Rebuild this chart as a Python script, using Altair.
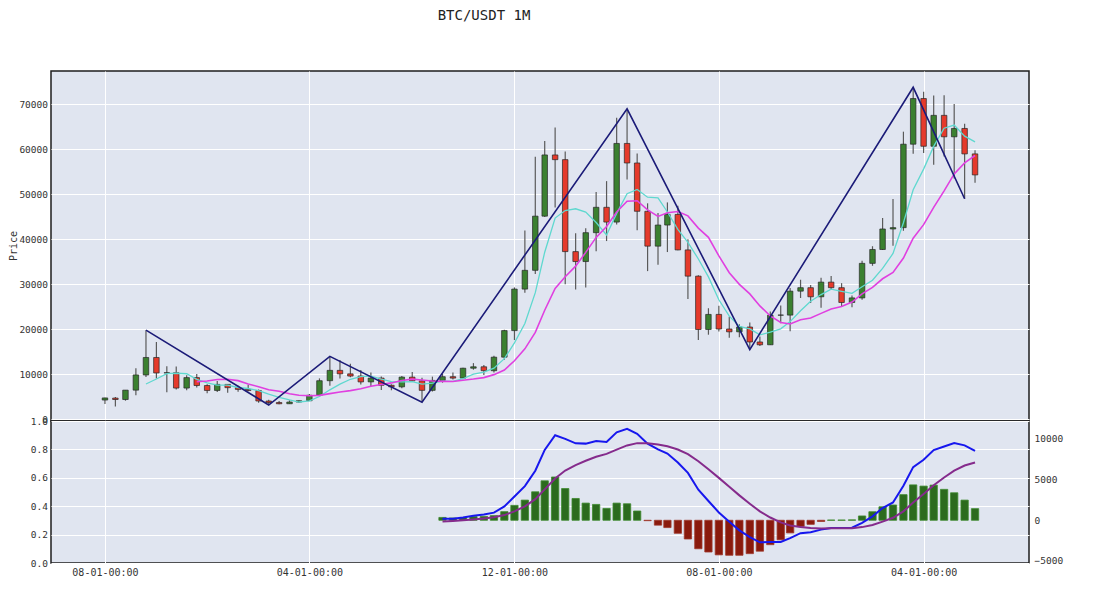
import altair as alt
import pandas as pd

TITLE = "BTC/USDT 1M"
Y_TITLE = "Price"

MONTHS = [
    "2017-08", "2017-09", "2017-10", "2017-11", "2017-12",
    "2018-01", "2018-02", "2018-03", "2018-04", "2018-05", "2018-06",
    "2018-07", "2018-08", "2018-09", "2018-10", "2018-11", "2018-12",
    "2019-01", "2019-02", "2019-03", "2019-04", "2019-05", "2019-06",
    "2019-07", "2019-08", "2019-09", "2019-10", "2019-11", "2019-12",
    "2020-01", "2020-02", "2020-03", "2020-04", "2020-05", "2020-06",
    "2020-07", "2020-08", "2020-09", "2020-10", "2020-11", "2020-12",
    "2021-01", "2021-02", "2021-03", "2021-04", "2021-05", "2021-06",
    "2021-07", "2021-08", "2021-09", "2021-10", "2021-11", "2021-12",
    "2022-01", "2022-02", "2022-03", "2022-04", "2022-05", "2022-06",
    "2022-07", "2022-08", "2022-09", "2022-10", "2022-11", "2022-12",
    "2023-01", "2023-02", "2023-03", "2023-04", "2023-05", "2023-06",
    "2023-07", "2023-08", "2023-09", "2023-10", "2023-11", "2023-12",
    "2024-01", "2024-02", "2024-03", "2024-04", "2024-05", "2024-06",
    "2024-07", "2024-08", "2024-09",
]

OPEN = [4261, 4690, 4378, 6463, 9837, 13716, 10285, 10326, 6922, 9246, 7485,
        6391, 7736, 7011, 6627, 6370, 4041, 3701, 3434, 3814, 4102, 5322,
        8555, 10854, 10081, 9589, 8290, 9141, 7541, 7195, 9352, 8530, 6412,
        8620, 9448, 9138, 11335, 11650, 10777, 13791, 19696, 28924, 33093,
        45134, 58739, 57697, 37254, 35045, 41462, 47101, 43820, 61300, 56951,
        46217, 38467, 43160, 45510, 37631, 31801, 19942, 23296, 20048, 19423,
        20491, 17166, 16542, 23125, 23142, 28465, 29233, 27210, 30472, 29232,
        25941, 26963, 34640, 37724, 42284, 42580, 61131, 71280, 60672, 67540,
        62772, 64628, 58974]
HIGH = [4745, 4939, 6470, 11300, 19798, 17176, 11786, 11710, 9760, 10020, 7787,
        8492, 7750, 7410, 7680, 6615, 4313, 4070, 4198, 4140, 5600, 9074,
        13970, 13147, 12325, 10940, 10370, 9514, 7750, 9578, 10500, 9188, 9460,
        10067, 10380, 11444, 12468, 12051, 14100, 19863, 29300, 41950, 58353,
        61844, 64854, 59500, 41330, 42448, 50500, 52920, 67000, 69000, 59054,
        47990, 45821, 48190, 47444, 40024, 31986, 24668, 25211, 22799, 21085,
        21481, 18388, 23961, 25250, 29185, 31000, 29820, 31432, 31804, 30244,
        27484, 35198, 38450, 44730, 48969, 63913, 73777, 72798, 71979, 71997,
        70080, 65660, 59810]
LOW = [3400, 2817, 4110, 5325, 9380, 9035, 6000, 6600, 6430, 7033, 5750,
       6070, 5880, 6111, 6205, 3653, 3156, 3350, 3373, 3671, 4067, 5316,
       7445, 9071, 9320, 7710, 7300, 6515, 6435, 6871, 8445, 3782, 6150,
       8117, 8833, 8893, 11000, 9825, 10374, 13195, 17572, 28130, 32296,
       44951, 47044, 30000, 28805, 29278, 37333, 39600, 43283, 53257, 42000,
       32917, 34322, 37155, 37578, 26700, 17622, 18781, 19520, 18126, 18190,
       15476, 16256, 16499, 21351, 19549, 26943, 25811, 24800, 28862, 25166,
       24901, 26539, 34097, 37616, 38555, 41884, 59005, 59192, 56553, 58402,
       53486, 49000, 52550]
CLOSE = [4725, 4379, 6463, 9839, 13716, 10285, 10327, 6924, 9246, 7485, 6390,
         7731, 7011, 6627, 6372, 4041, 3703, 3434, 3814, 4104, 5321, 8555,
         10854, 10081, 9589, 8289, 9141, 7542, 7195, 9353, 8530, 6410, 8620,
         9448, 9139, 11335, 11650, 10777, 13791, 19696, 28924, 33093, 45136,
         58741, 57694, 37254, 35045, 41462, 47101, 43824, 61300, 56951, 46217,
         38467, 43160, 45510, 37631, 31801, 19942, 23293, 20050, 19423, 20491,
         17164, 16542, 23125, 23142, 28465, 29233, 27210, 30472, 29232, 25941,
         26963, 34640, 37724, 42284, 42580, 61131, 71280, 60672, 67540, 62772,
         64628, 58974, 54300]

# MACD panel (starts 2020-05)
MACD_MONTHS = MONTHS[33:]
MACD = [200, 200, 330, 560, 710, 940, 1700, 2930, 4200, 6090, 8650, 10450,
        10010, 9460, 9420, 9750, 9620, 10800, 11230, 10620, 9420, 8720, 8200,
        7100, 5820, 3750, 2370, 960, -170, -1240, -2060, -2710, -2660, -2660,
        -2200, -1580, -1460, -1150, -960, -950, -920, -310, 480, 1500, 2190,
        4250, 6530, 7430, 8630, 9060, 9490, 9210, 8520]
SIGNAL = [-150, -80, 0, 110, 230, 370, 640, 1100, 1720, 2590, 3800, 5130,
          6110, 6780, 7310, 7800, 8160, 8690, 9200, 9480, 9470, 9320, 9100,
          8700, 8120, 7250, 6270, 5210, 4130, 3060, 2040, 1090, 340, -260,
          -650, -830, -960, -1000, -990, -980, -970, -840, -570, -160, 310,
          1100, 2180, 3230, 4310, 5260, 6110, 6730, 7090]
HIST = [350, 280, 330, 450, 480, 570, 1060, 1830, 2480, 3500, 4850, 5320,
        3900, 2680, 2110, 1950, 1460, 2110, 2030, 1140, -50, -600, -900,
        -1600, -2300, -3500, -3900, -4250, -4300, -4300, -4100, -3800, -3000,
        -2400, -1550, -750, -500, -150, 30, 30, 50, 530, 1050, 1660, 1880,
        3150, 4350, 4200, 4320, 3800, 3380, 2480, 1430]

ZZ_MONTHS = ["2017-12", "2018-12", "2019-06", "2020-03", "2021-11", "2022-11", "2024-03", "2024-08"]
ZZ_VALUES = [19798, 3156, 13970, 3782, 69000, 15476, 73777, 49000]

TICK_MONTHS = ["2017-08", "2019-04", "2020-12", "2022-08", "2024-04"]
PRICE_TICKS = [0, 10000, 20000, 30000, 40000, 50000, 60000, 70000]
LEFT_TICKS = [0.0, 0.2, 0.4, 0.6, 0.8, 1.0]
MACD_TICKS = [-5000, 0, 5000, 10000]

BG = "#e0e5f0"
UP = "#3b8030"
DN = "#e53a2b"
EDGE = "#262626"
WICK = "#5a5a5a"
MA5_C = "#5fd8cf"
MA10_C = "#e040e0"
ZZ_C = "#1b1b78"
MACD_C = "#1717ee"
SIG_C = "#852b8c"
HG = "#2c6b1e"
HG_E = "#3f8a2f"
HR = "#8a1a0d"
HR_E = "#a0392c"
FONT = "DejaVu Sans Mono"


def iso(m):
    return m + "-01T00:00:00"


def dt(m, day=1, hours=0):
    y, mo = m.split("-")
    return alt.DateTime(year=int(y), month=int(mo), date=day, hours=hours)


candles = pd.DataFrame({"date": [iso(m) for m in MONTHS], "open": OPEN,
                        "high": HIGH, "low": LOW, "close": CLOSE})
macd_df = pd.DataFrame({"date": [iso(m) for m in MACD_MONTHS], "macd": MACD,
                        "signal": SIGNAL, "hist": HIST})
zz_df = pd.DataFrame({"date": [iso(m) for m in ZZ_MONTHS], "price": ZZ_VALUES})

X_DOMAIN = [dt("2017-02", 21, 12), dt("2025-02", 8, 12)]
TICKS = [dt(m) for m in TICK_MONTHS]

x_top = alt.X("date:T", scale=alt.Scale(domain=X_DOMAIN, padding=0),
              axis=alt.Axis(values=TICKS, labels=False, ticks=False, domain=False,
                            title=None, grid=True))
x_bot = alt.X("date:T", scale=alt.Scale(domain=X_DOMAIN, padding=0),
              axis=alt.Axis(values=TICKS, format="%m-%d-%H:%M", title=None,
                            grid=True, labelPadding=4, labelFontSize=10))


def y_top(field):
    return alt.Y(field, scale=alt.Scale(domain=[-400, 77400], nice=False, zero=False, padding=0),
                 axis=alt.Axis(values=PRICE_TICKS, format="d", title=None, grid=True))


def y_macd(field):
    return alt.Y(field, scale=alt.Scale(domain=[-5250, 12200], nice=False, zero=False, padding=0),
                 axis=alt.Axis(values=MACD_TICKS, format="d", title=None, grid=False,
                               orient="right", labelPadding=5))


base = alt.Chart(candles)
wick = base.mark_rule(color=WICK, strokeWidth=1.2).encode(
    x=x_top, y=y_top("low:Q"), y2="high:Q")
body = base.mark_bar(width=5.5, stroke=EDGE, strokeWidth=0.7).encode(
    x=x_top, y=y_top("open:Q"), y2="close:Q",
    color=alt.condition("datum.close >= datum.open", alt.value(UP), alt.value(DN)))
ma5 = base.transform_window(
    ma5="mean(close)", n5="count()", frame=[-4, 0], sort=[alt.SortField("date")]
).transform_filter("datum.n5 >= 5").mark_line(color=MA5_C, strokeWidth=1.3).encode(
    x=x_top, y=y_top("ma5:Q"))
ma10 = base.transform_window(
    ma10="mean(close)", n10="count()", frame=[-9, 0], sort=[alt.SortField("date")]
).transform_filter("datum.n10 >= 10").mark_line(color=MA10_C, strokeWidth=1.6).encode(
    x=x_top, y=y_top("ma10:Q"))
zz = alt.Chart(zz_df).mark_line(color=ZZ_C, strokeWidth=1.6).encode(
    x=x_top, y=y_top("price:Q"))
title_txt = alt.Chart(pd.DataFrame({"t": [TITLE]})).mark_text(
    font=FONT, fontSize=14, color="#222222", align="center", baseline="top"
).encode(x=alt.value(433), y=alt.value(-62), text="t:N")
price_txt = alt.Chart(pd.DataFrame({"t": [Y_TITLE]})).mark_text(
    font=FONT, fontSize=10, color="#333333", align="center", baseline="middle", angle=270
).encode(x=alt.value(-37), y=alt.value(175), text="t:N")

top = alt.layer(wick, body, ma5, ma10, zz, title_txt, price_txt).properties(
    width=978, height=350)

left_axis = alt.Chart(pd.DataFrame({"v": [0.5]})).mark_point(opacity=0).encode(
    x=alt.value(0),
    y=alt.Y("v:Q", scale=alt.Scale(domain=[0, 1], nice=False),
            axis=alt.Axis(values=LEFT_TICKS, format=".1f", title=None, grid=True,
                          orient="left")))
mbase = alt.Chart(macd_df)
bars = mbase.mark_bar(width=7.3, strokeWidth=0.8).encode(
    x=x_bot, y=y_macd("hist:Q"), y2=alt.Y2Datum(0),
    color=alt.condition("datum.hist >= 0", alt.value(HG), alt.value(HR)),
    stroke=alt.condition("datum.hist >= 0", alt.value(HG_E), alt.value(HR_E)))
macd_line = mbase.mark_line(color=MACD_C, strokeWidth=2).encode(
    x=x_bot, y=y_macd("macd:Q"))
sig_line = mbase.mark_line(color=SIG_C, strokeWidth=2).encode(
    x=x_bot, y=y_macd("signal:Q"))
inner = alt.layer(bars, macd_line, sig_line)

bottom = alt.layer(left_axis, inner).resolve_scale(y="independent").properties(
    width=978, height=142)

chart = alt.vconcat(top, bottom, spacing=0, bounds="flush").properties(
    padding={"left": 0, "top": 0, "right": 4, "bottom": 4}
).configure_view(
    fill=BG, stroke="#1e1e1e", strokeWidth=1.5
).configure_axis(
    labelFont=FONT, labelFontSize=9.5, labelColor="#333333", domain=False,
    ticks=False, gridColor="#ffffff", gridWidth=1, gridOpacity=1, labelPadding=3.5
)

chart.save("out.html", embed_options={"renderer": "svg", "actions": False})
